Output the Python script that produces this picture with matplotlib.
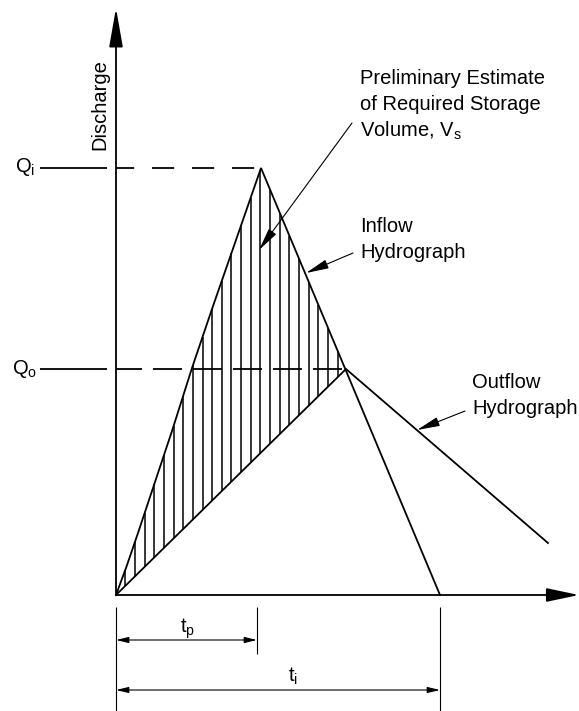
import numpy as np
import matplotlib
matplotlib.use('Agg')
import matplotlib.pyplot as plt

plt.rcParams['font.family'] = ['Liberation Sans', 'DejaVu Sans']
plt.rcParams['mathtext.fontset'] = 'custom'
plt.rcParams['mathtext.rm'] = 'Liberation Sans'
plt.rcParams['lines.scale_dashes'] = False

# Hydrograph data (time, discharge) - schematic units
inflow_t = [0, 10, 22, 38, 56, 76, 96, 120, 145, 324]
inflow_q = [0, 27, 62, 110, 164, 227, 286, 355, 427, 0]
outflow_t = [0, 230, 432]
outflow_q = [0, 226, 52]

q_inflow_peak = 427
q_outflow_peak = 226
t_peak = 145
t_peak_dim = 141
t_base = 324

fig = plt.figure(figsize=(5.79, 7.11), dpi=100)
ax = fig.add_axes([0, 0, 1, 1])
ax.set_xlim(-116, 463)
ax.set_ylim(-116, 595)
ax.axis('off')

lw = 1.3
fs = 14.5

# Axes with arrows
ax.annotate('', xy=(0, 587), xytext=(0, 0),
            arrowprops=dict(arrowstyle='-|>,head_length=2.4,head_width=0.42',
                            mutation_scale=10, lw=lw, color='k',
                            shrinkA=0, shrinkB=0))
ax.annotate('', xy=(463, 0), xytext=(0, 0),
            arrowprops=dict(arrowstyle='-|>,head_length=2.0,head_width=0.42',
                            mutation_scale=10, lw=lw, color='k',
                            shrinkA=0, shrinkB=0))

# Hatching between inflow and outflow (storage volume)
hatch_t = np.arange(9.3, 228, 9.65)
upper = np.interp(hatch_t, inflow_t[:9], inflow_q[:9])
# use falling limb for times after peak
fall = np.interp(hatch_t, inflow_t[8:], inflow_q[8:])
upper = np.where(hatch_t > t_peak, fall, upper)
lower = np.interp(hatch_t, outflow_t, outflow_q)
mask = upper > lower
ax.vlines(hatch_t[mask], lower[mask], upper[mask], color='k', lw=1.1)

# Hydrographs
ax.plot(inflow_t, inflow_q, color='k', lw=lw, solid_joinstyle='miter')
ax.plot(outflow_t, outflow_q, color='k', lw=lw, solid_joinstyle='miter')

# Peak levels
ax.plot([0, t_peak], [q_inflow_peak, q_inflow_peak], color='k', lw=lw,
        linestyle=(2.9, (16, 12.8)))
ax.plot([0, outflow_t[1]], [q_outflow_peak, q_outflow_peak], color='k', lw=lw,
        linestyle=(2.2, (20.9, 7.9)))
ax.hlines([q_inflow_peak, q_outflow_peak], -76, -9, color='k', lw=lw)

ax.text(-101, 423, r'Q$_\mathregular{i}$', fontsize=fs, ha='left', va='baseline')
ax.text(-104, 221, r'Q$_\mathregular{o}$', fontsize=fs, ha='left', va='baseline')
ax.text(-16, 490, 'Discharge', fontsize=fs, rotation=90, ha='center', va='center')

# Labels and leaders
for i, line in enumerate(['Preliminary Estimate', 'of Required Storage',
                          r'Volume, V$_\mathregular{s}$']):
    ax.text(244, 517 - 26.5 * i, line, fontsize=fs, ha='left', va='center')
ax.text(244, 368, 'Inflow', fontsize=fs, ha='left', va='center')
ax.text(244, 342, 'Hydrograph', fontsize=fs, ha='left', va='center')
ax.text(356, 213, 'Outflow', fontsize=fs, ha='left', va='center')
ax.text(356, 187, 'Hydrograph', fontsize=fs, ha='left', va='center')

leader = dict(arrowstyle='-|>,head_length=1.4,head_width=0.28',
              mutation_scale=10, lw=0.8, color='k', shrinkA=0, shrinkB=0)
ax.annotate('', xy=(143, 345), xytext=(236, 472), arrowprops=leader)
ax.annotate('', xy=(190, 322), xytext=(237, 342), arrowprops=leader)
ax.annotate('', xy=(301, 165), xytext=(349, 184), arrowprops=leader)

# Time dimensions
ax.vlines([0, t_base], -116, -12, color='k', lw=0.8)
ax.vlines([t_peak_dim], -59, -12, color='k', lw=0.8)
dim = dict(arrowstyle='<|-|>,head_length=0.75,head_width=0.18',
           mutation_scale=10, lw=0.8, color='k', shrinkA=0, shrinkB=0)
ax.annotate('', xy=(t_peak_dim, -45), xytext=(0, -45), arrowprops=dim)
ax.annotate('', xy=(t_base, -95), xytext=(0, -95), arrowprops=dim)
ax.text(64, -38, r't$_\mathregular{p}$', fontsize=fs, ha='left', va='baseline')
ax.text(172, -87, r't$_\mathregular{i}$', fontsize=fs, ha='left', va='baseline')

fig.savefig('out.png', dpi=100)
